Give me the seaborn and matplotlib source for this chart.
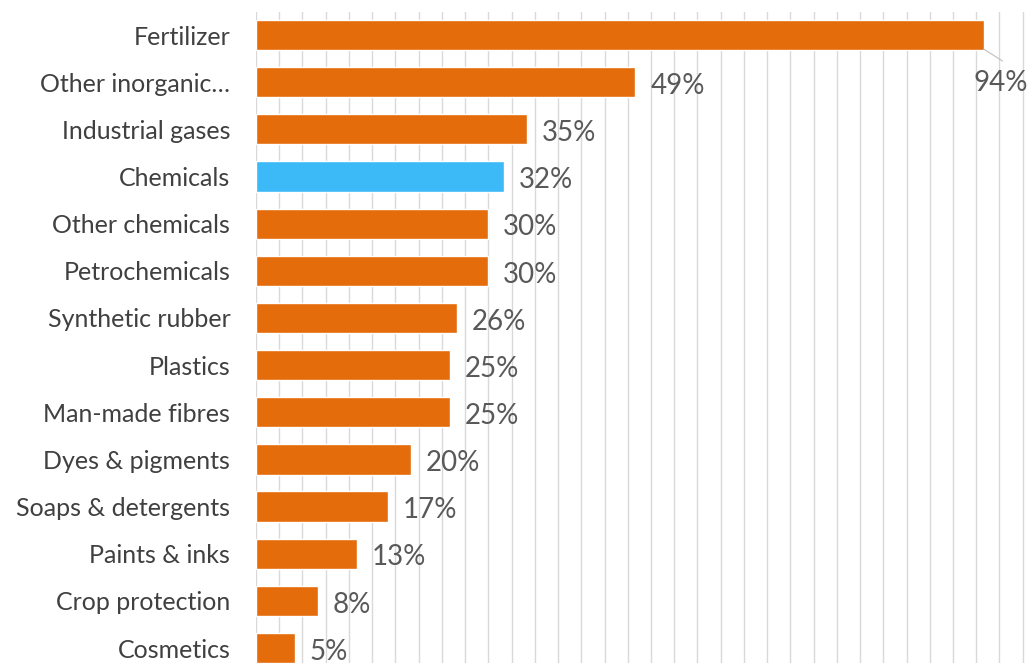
import pandas as pd
import seaborn as sns
import matplotlib.pyplot as plt
import numpy as np

sns.set_style("white")
plt.rcParams['font.family'] = ['Lato', 'DejaVu Sans']

# data
categories = ["Fertilizer", "Other inorganic…", "Industrial gases", "Chemicals",
              "Other chemicals", "Petrochemicals", "Synthetic rubber", "Plastics",
              "Man-made fibres", "Dyes & pigments", "Soaps & detergents",
              "Paints & inks", "Crop protection", "Cosmetics"]
shares = [94, 49, 35, 32, 30, 30, 26, 25, 25, 20, 17, 13, 8, 5]
highlight = "Chemicals"

ORANGE = "#E46C0A"
BLUE = "#3CBAF7"
TEXT = "#404040"
LABEL = "#595959"

df = pd.DataFrame({"category": categories, "share": shares})
palette = {c: (BLUE if c == highlight else ORANGE) for c in categories}

fig = plt.figure(figsize=(10.33, 6.63), dpi=100)
W, H = 1033, 663
ax = fig.add_axes([256 / W, 0, (W - 256) / W, (H - 12) / H])

sns.barplot(data=df, y="category", x="share", hue="category", palette=palette,
            order=categories, width=0.64, saturation=1, legend=False, ax=ax,
            zorder=3)

px_per_pct = (984 - 256) / 94
ax.set_xlim(0, (W - 256) / px_per_pct)
ax.set_ylim(13 + (H - 648) / 47.2, -0.49)
ax.set_xticks(np.arange(0, 100, 3))
ax.xaxis.grid(True, color="#D9D9D9", linewidth=1, zorder=0)
ax.yaxis.grid(False)
ax.tick_params(axis="x", bottom=False, labelbottom=False)
ax.tick_params(axis="y", left=False, pad=15, labelsize=18, labelcolor=TEXT)
ax.set_xlabel("")
ax.set_ylabel("")
for s in ax.spines.values():
    s.set_visible(False)

# value labels
for i, v in enumerate(shares):
    if i == 0:
        # label pushed outside with a thin leader line
        ax.plot([v, v + 2.4], [i + 0.3, i + 0.55], color="#BFBFBF",
                linewidth=0.8, zorder=4)
        ax.text(v + 2.2, i + 1.02, f"{v}%", ha="center", va="center",
                fontsize=20, color=LABEL)
    else:
        ax.text(v + 1.9, i + 0.08, f"{v}%", ha="left", va="center",
                fontsize=20, color=LABEL)

fig.savefig("out.png", dpi=100)
